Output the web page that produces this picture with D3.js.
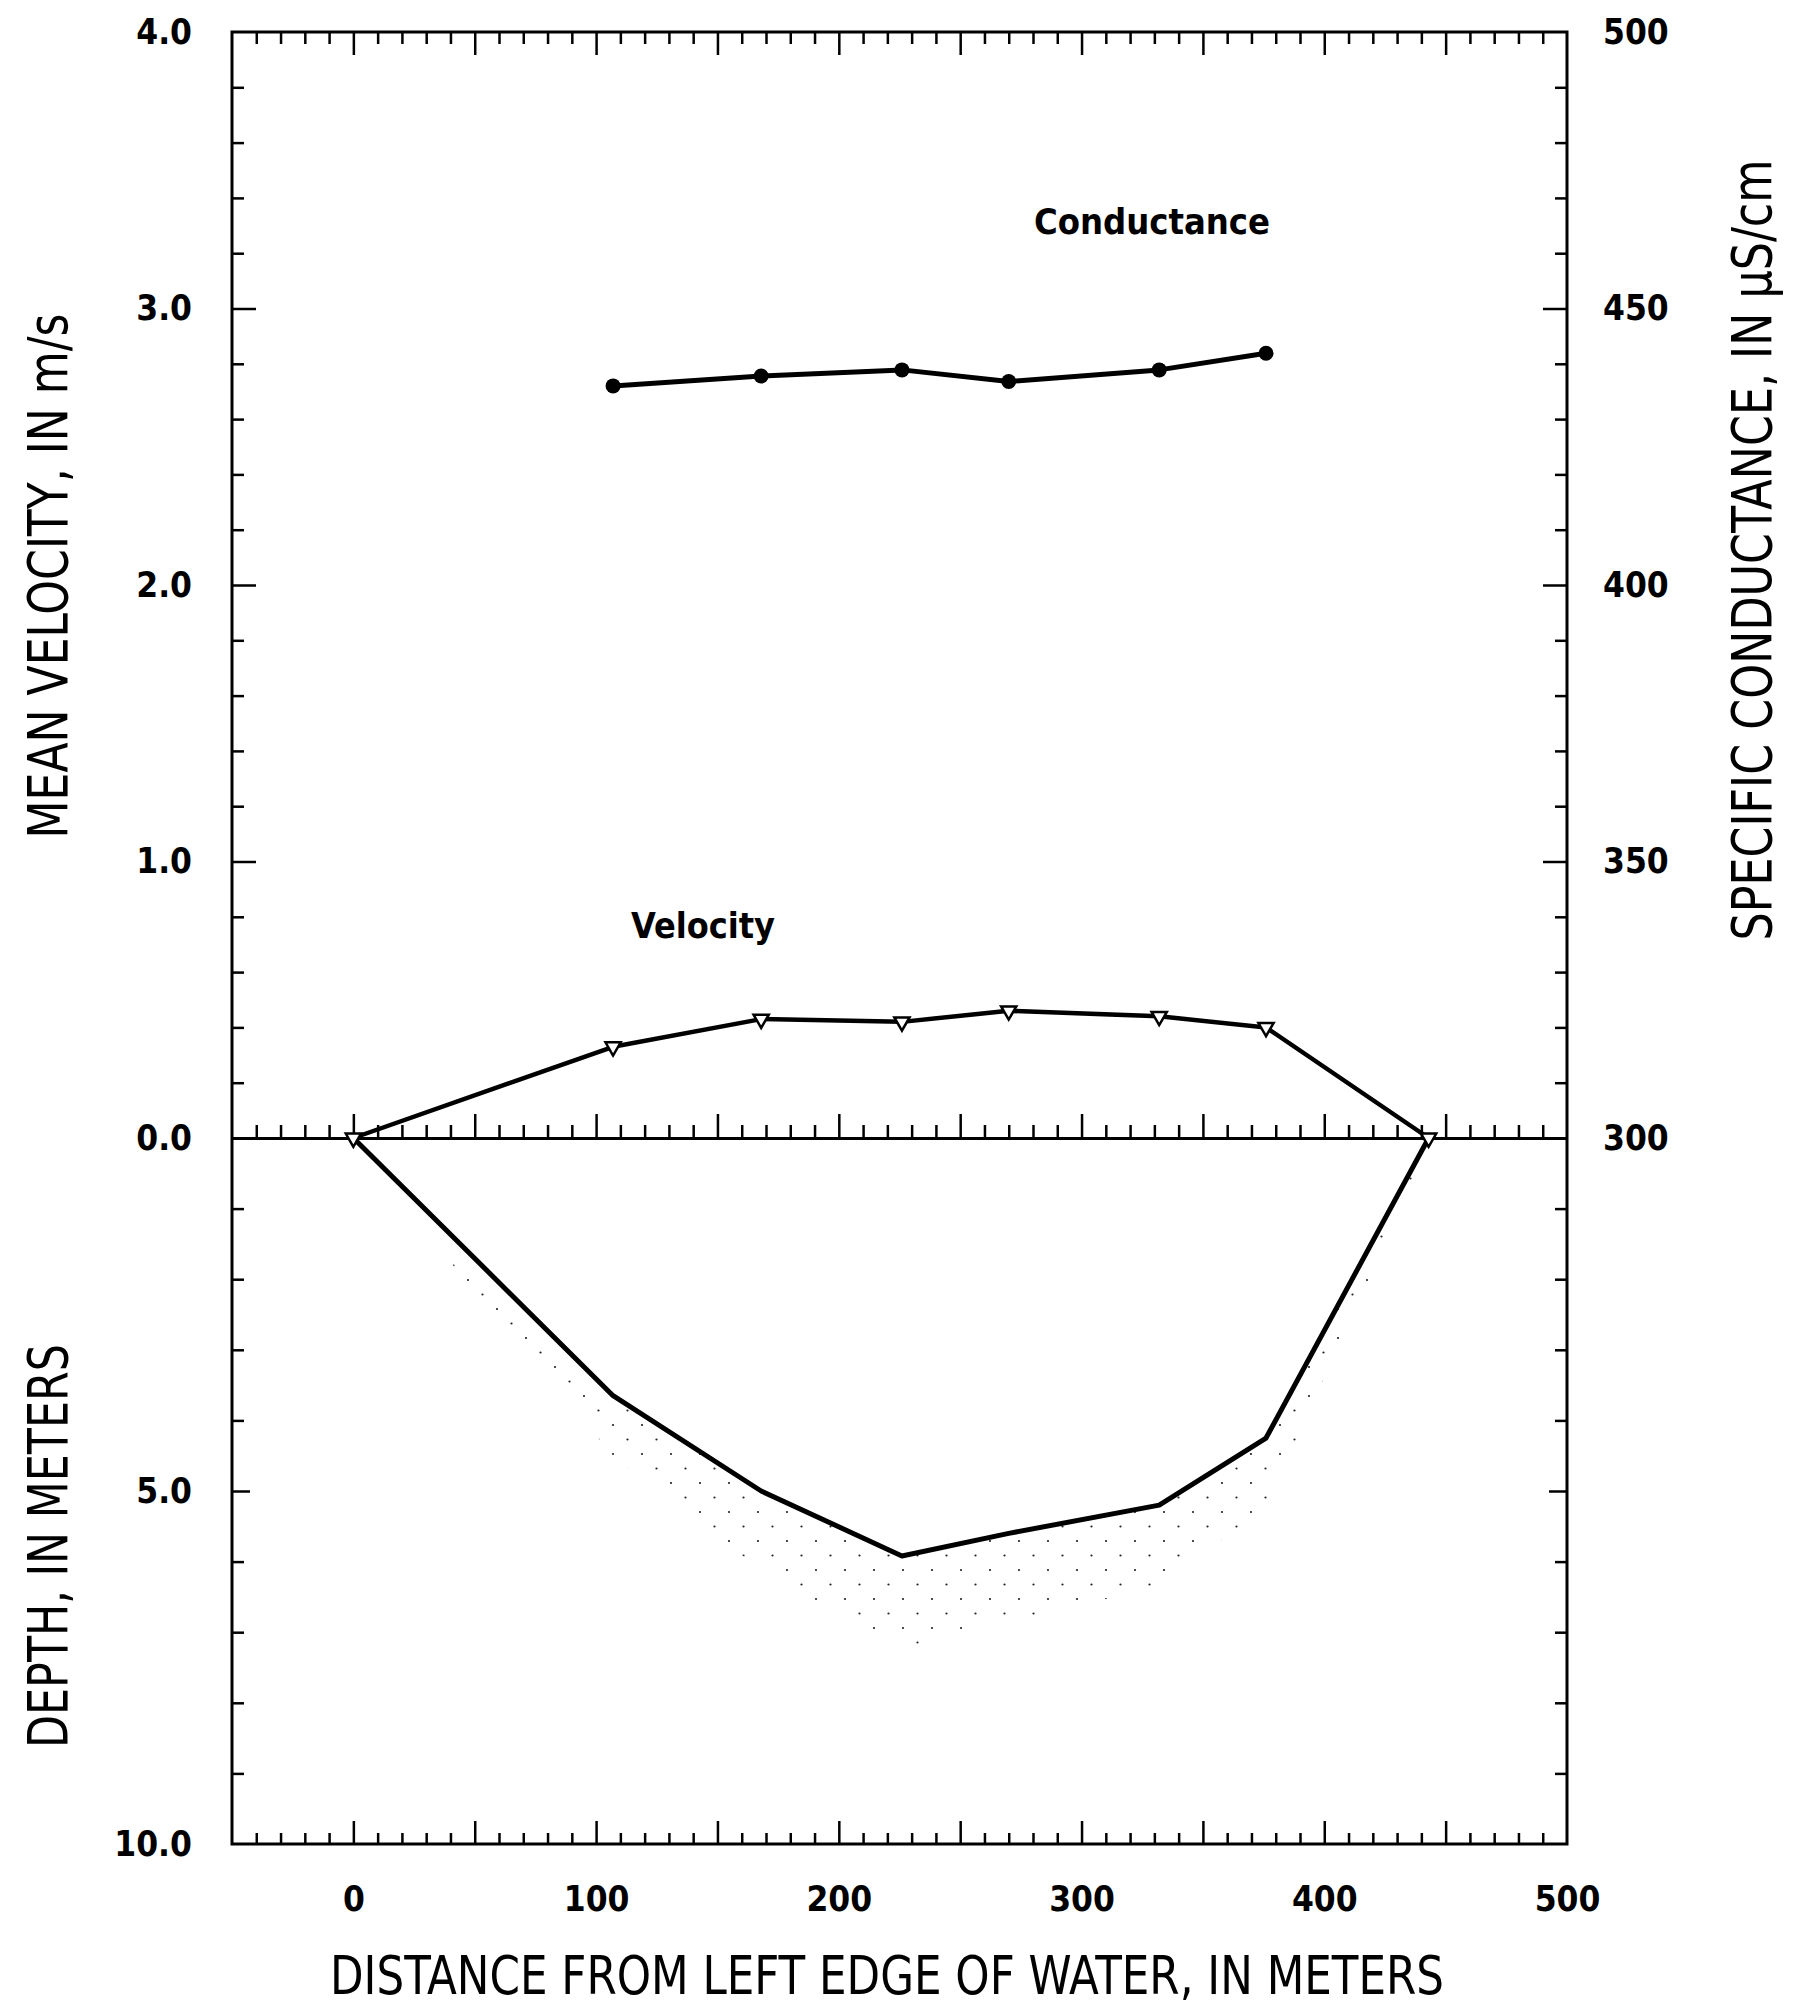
<!DOCTYPE html>
<html><head><meta charset="utf-8">
<script src="https://cdn.jsdelivr.net/npm/d3@7"></script>
<style>
html,body{margin:0;padding:0;background:#fff;}
svg{display:block;}
</style></head><body>
<svg id="chart" width="1795" height="2008"></svg>
<script>
// ---- data ----
const distance = [0, 107, 168, 226, 270, 332, 376, 443];          // m from left edge of water
const velocity = [0, 0.33, 0.43, 0.42, 0.46, 0.44, 0.40, 0];      // m/s
const depth    = [0, 3.65, 5.0, 5.92, 5.6, 5.2, 4.25, 0];         // m
const condDistance = [107, 168, 226, 270, 332, 376];              // m
const conductance  = [436.0, 437.8, 438.9, 436.8, 438.9, 441.9];  // µS/cm
const xTickLabels     = [0, 100, 200, 300, 400, 500];
const velTickLabels   = [0, 1, 2, 3, 4];
const depthTickLabels = [5, 10];
const condTickLabels  = [300, 350, 400, 450, 500];

// ---- layout ----
const L = 232, R = 1567, T = 32, Z = 1138, B = 1844;
const FONT = '"DejaVu Sans Condensed","DejaVu Sans",sans-serif';

const x = d3.scaleLinear([-50, 500], [L, R]);
const yVel = d3.scaleLinear([0, 4], [Z, T]);
const yCond = d3.scaleLinear([300, 500], [Z, T]);
const yDep = d3.scaleLinear([0, 10], [Z, B]);

const svg = d3.select("#chart");
const defs = svg.append("defs");

// stipple pattern for the streambed
const pat = defs.append("pattern").attr("id", "stip").attr("patternUnits", "userSpaceOnUse")
  .attr("width", 29).attr("height", 29);
pat.append("circle").attr("cx", 4).attr("cy", 4).attr("r", 1.1).attr("fill", "#222");
pat.append("circle").attr("cx", 18.5).attr("cy", 18.5).attr("r", 1.1).attr("fill", "#222");

const idx = d3.range(distance.length);
const band = d3.area()
  .x(i => x(distance[i]))
  .y0(i => yDep(depth[i]))
  .y1(i => yDep(depth[i] * 1.2 + 0.12));
svg.append("path").attr("d", band(idx)).attr("fill", "url(#stip)").attr("stroke", "none");

// ---- ticks helper ----
function ticks(axisGen, translate, values, size) {
  const g = svg.append("g").attr("transform", translate)
    .call(axisGen.tickValues(values).tickSize(size).tickFormat(""));
  g.select(".domain").remove();
  g.selectAll("line").attr("stroke", "#000").attr("stroke-width", 2.5);
  return g;
}
const xMinor = d3.range(-4, 50).filter(i => i % 5 !== 0).map(i => i * 10);
const xMajor = d3.range(0, 10).map(i => i * 50);

// top border ticks (pointing down)
ticks(d3.axisBottom(x), `translate(0,${T})`, xMinor, 12);
ticks(d3.axisBottom(x), `translate(0,${T})`, xMajor, 23);
// zero line ticks (pointing up)
ticks(d3.axisTop(x), `translate(0,${Z})`, xMinor, 13);
ticks(d3.axisTop(x), `translate(0,${Z})`, xMajor, 24);
// bottom border ticks (pointing up)
ticks(d3.axisTop(x), `translate(0,${B})`, xMinor, 11);
ticks(d3.axisTop(x), `translate(0,${B})`, xMajor, 23);

const velMinor = d3.range(1, 20).filter(i => i % 5 !== 0).map(i => i / 5);
const velMajor = [1, 2, 3];
const depMinor = [1, 2, 3, 4, 6, 7, 8, 9];
const depMajor = [5];
// left border ticks (pointing right)
ticks(d3.axisRight(yVel), `translate(${L},0)`, velMinor, 12);
ticks(d3.axisRight(yVel), `translate(${L},0)`, velMajor, 24);
ticks(d3.axisRight(yDep), `translate(${L},0)`, depMinor, 12);
ticks(d3.axisRight(yDep), `translate(${L},0)`, depMajor, 18);
// right border ticks (pointing left)
const condMinor = d3.range(31, 50).filter(i => i % 5 !== 0).map(i => i * 10);
const condMajor = [350, 400, 450];
ticks(d3.axisLeft(yCond), `translate(${R},0)`, condMinor, 12);
ticks(d3.axisLeft(yCond), `translate(${R},0)`, condMajor, 24);
ticks(d3.axisLeft(yDep), `translate(${R},0)`, depMinor, 12);
ticks(d3.axisLeft(yDep), `translate(${R},0)`, depMajor, 18);

// zero (water surface) line
const zl = svg.append("g").attr("transform", `translate(0,${Z})`)
  .call(d3.axisTop(x).tickValues([]).tickSizeOuter(0));
zl.select(".domain").attr("stroke", "#000").attr("stroke-width", 3);

// frame
svg.append("rect").attr("x", L).attr("y", T).attr("width", R - L).attr("height", B - T)
  .attr("fill", "none").attr("stroke", "#000").attr("stroke-width", 3);

// ---- tick labels ----
function styleLabels(g) {
  g.select(".domain").remove();
  g.selectAll("text").attr("font-family", FONT).attr("font-size", 35)
    .attr("font-weight", "bold").attr("fill", "#000");
}
svg.append("g").attr("transform", `translate(0,${B})`)
  .call(d3.axisBottom(x).tickValues(xTickLabels).tickSize(0).tickPadding(42).tickFormat(d3.format("d")))
  .call(styleLabels);
svg.append("g").attr("transform", `translate(${L},0)`)
  .call(d3.axisLeft(yVel).tickValues(velTickLabels).tickSize(0).tickPadding(40).tickFormat(d3.format(".1f")))
  .call(styleLabels);
svg.append("g").attr("transform", `translate(${L},0)`)
  .call(d3.axisLeft(yDep).tickValues(depthTickLabels).tickSize(0).tickPadding(40).tickFormat(d3.format(".1f")))
  .call(styleLabels);
svg.append("g").attr("transform", `translate(${R},0)`)
  .call(d3.axisRight(yCond).tickValues(condTickLabels).tickSize(0).tickPadding(36).tickFormat(d3.format("d")))
  .call(styleLabels);

// ---- data lines ----
const velLine = d3.line().x(i => x(distance[i])).y(i => yVel(velocity[i]));
const depLine = d3.line().x(i => x(distance[i])).y(i => yDep(depth[i]));
const condIdx = d3.range(condDistance.length);
const condLine = d3.line().x(i => x(condDistance[i])).y(i => yCond(conductance[i]));

svg.append("path").attr("d", depLine(idx)).attr("fill", "none").attr("stroke", "#000")
  .attr("stroke-width", 5).attr("stroke-linejoin", "round");
svg.append("path").attr("d", velLine(idx)).attr("fill", "none").attr("stroke", "#000")
  .attr("stroke-width", 4.5).attr("stroke-linejoin", "round");
svg.append("path").attr("d", condLine(condIdx)).attr("fill", "none").attr("stroke", "#000")
  .attr("stroke-width", 5).attr("stroke-linejoin", "round");

// velocity markers: open downward triangles
const tri = d3.symbol(d3.symbolTriangle, 100);
svg.append("g").selectAll("path").data(idx).join("path")
  .attr("d", tri)
  .attr("transform", i => `translate(${x(distance[i])},${yVel(velocity[i])}) rotate(180)`)
  .attr("fill", "#fff").attr("stroke", "#000").attr("stroke-width", 2.5);

// conductance markers: filled circles
svg.append("g").selectAll("circle").data(condIdx).join("circle")
  .attr("cx", i => x(condDistance[i])).attr("cy", i => yCond(conductance[i]))
  .attr("r", 7.5).attr("fill", "#000");

// ---- series labels ----
svg.append("text").attr("x", 1034).attr("y", 234).text("Conductance")
  .attr("font-family", FONT).attr("font-size", 36).attr("font-weight", "bold")
  .attr("textLength", 236).attr("lengthAdjust", "spacingAndGlyphs");
svg.append("text").attr("x", 631).attr("y", 938).text("Velocity")
  .attr("font-family", FONT).attr("font-size", 36).attr("font-weight", "bold")
  .attr("textLength", 144).attr("lengthAdjust", "spacingAndGlyphs");

// ---- axis titles ----
function title(tx, ty, rot, txt, len, fs) {
  svg.append("text").attr("transform", `translate(${tx},${ty}) rotate(${rot})`)
    .attr("text-anchor", "middle").text(txt)
    .attr("font-family", FONT).attr("font-size", fs).attr("fill", "#000")
    .attr("textLength", len).attr("lengthAdjust", "spacingAndGlyphs");
}
title(887, 1994, 0, "DISTANCE FROM LEFT EDGE OF WATER, IN METERS", 1114, 54);
title(67, 576, -90, "MEAN VELOCITY, IN m/s", 525, 56);
title(67, 1546, -90, "DEPTH, IN METERS", 404, 56);
title(1771, 550, -90, "SPECIFIC CONDUCTANCE, IN \u03BCS/cm", 781, 56);
</script>
</body></html>
